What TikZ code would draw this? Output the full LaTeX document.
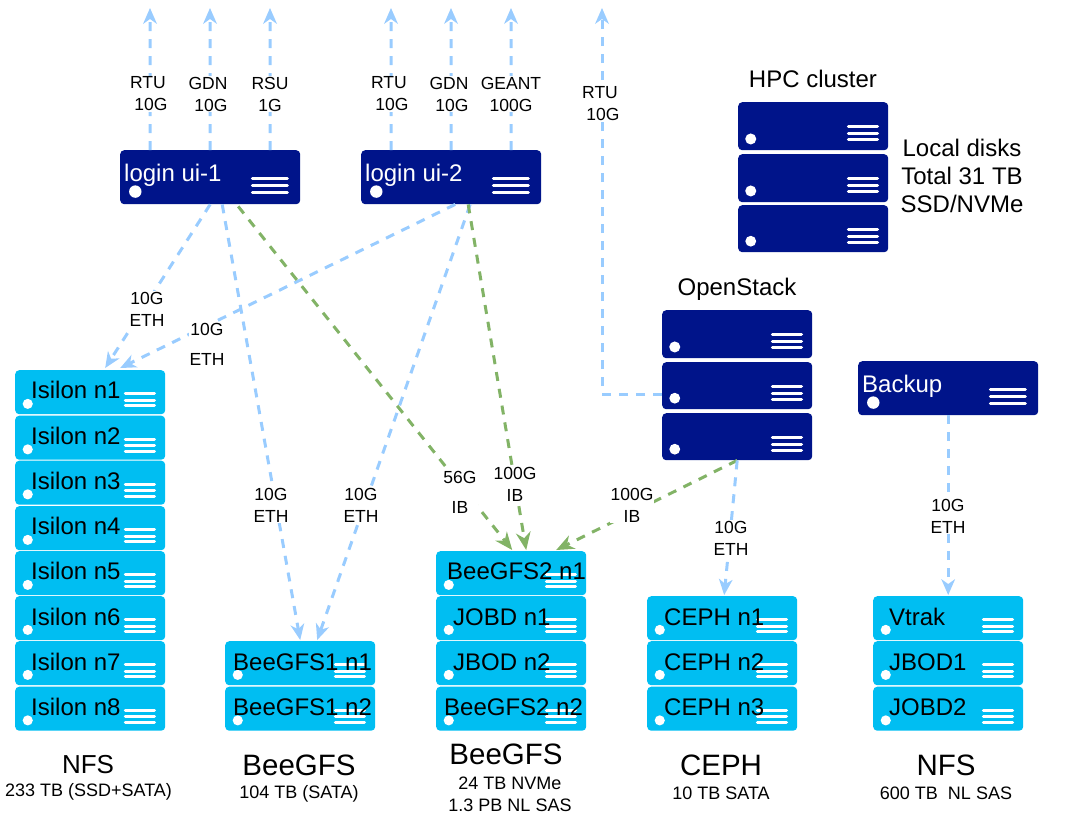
\documentclass[tikz,border=0pt]{standalone}
\usepackage{fontspec}
\setmainfont{Liberation Sans}
\usetikzlibrary{arrows.meta,calc}
\definecolor{navysrv}{HTML}{00148A}
\definecolor{cyansrv}{HTML}{00BEF2}
\definecolor{bluelink}{HTML}{99CCFF}
\definecolor{greenlink}{HTML}{82B366}
\tikzset{
  srvbox/.style={draw=none,rounded corners=4pt,inner sep=0pt,anchor=north west},
  srvlabel/.style={anchor=base west,inner sep=0pt,font=\fontsize{24}{26}\selectfont},
  bluearrow/.style={draw=bluelink,line width=3pt,dash pattern=on 9pt off 8pt,
    -{Stealth[length=16pt,width=14pt,inset=5pt,color=bluelink,line width=0pt]}},
  greenarrow/.style={draw=greenlink,line width=3pt,dash pattern=on 9pt off 8pt,
    -{Stealth[length=18pt,width=15pt,inset=6pt,color=greenlink,line width=0pt]}},
  edgelabel/.style={fill=white,align=center,inner sep=1pt,font=\fontsize{17.5}{22}\selectfont},
  title/.style={align=center,inner sep=0pt,font=\fontsize{29.5}{32}\selectfont},
  smalltitle/.style={align=center,inner sep=0pt,font=\fontsize{26}{30}\selectfont},
  subtitle/.style={align=center,inner sep=0pt,font=\fontsize{18}{22}\selectfont},
  head/.style={align=center,inner sep=0pt,font=\fontsize{24}{28}\selectfont}
}
% name, x, y, w, h, fill, icon line drop
\newcommand{\srv}[7]{%
  \node[srvbox,fill=#6,minimum width=#4pt,minimum height=#5pt] (#1) at (#2,#3) {};
  \fill[white] ({#2+0.085*#4},{#3+0.77*#5}) circle[radius=0.115*#5 pt];
  \foreach \f in {0.52,0.66,0.79}
    \draw[white,line width=3pt,line cap=round] ({#2+#4*0.735},{#3+\f*#5+#7}) -- ({#2+#4*0.93},{#3+\f*#5+#7});
}
\newcommand{\srvt}[5]{\node[srvlabel,text=#2] (#1-label) at (#3,#4) {#5};}
\begin{document}
\begin{tikzpicture}[x=1pt,y=-1pt]
\useasboundingbox (0,0) rectangle (1069,820);

\srv{ui1}{120}{150}{180}{54}{navysrv}{0}
\srv{ui2}{361}{150}{180}{54}{navysrv}{0}
\srv{hpca}{738}{102}{150}{48}{navysrv}{0}
\srv{hpcb}{738}{154}{150}{48}{navysrv}{0}
\srv{hpcc}{738}{205}{150}{47}{navysrv}{0}
\srv{osa}{662}{310}{150}{48}{navysrv}{0}
\srv{osb}{662}{362}{150}{47}{navysrv}{0}
\srv{osc}{662}{413}{150}{47}{navysrv}{0}
\srv{backup}{858}{361}{180}{54}{navysrv}{0}

\srv{is1}{15}{370}{150}{44}{cyansrv}{1}
\srv{is2}{15}{415.5}{150}{44}{cyansrv}{1}
\srv{is3}{15}{460.5}{150}{44}{cyansrv}{1}
\srv{is4}{15}{506}{150}{44}{cyansrv}{1}
\srv{is5}{15}{551}{150}{44}{cyansrv}{1}
\srv{is6}{15}{596}{150}{44}{cyansrv}{1}
\srv{is7}{15}{641}{150}{44}{cyansrv}{1}
\srv{is8}{15}{686.5}{150}{44}{cyansrv}{1}

\srv{bga}{225}{641}{150}{44}{cyansrv}{1}
\srv{bgb}{225}{686.5}{150}{44}{cyansrv}{1}

\srv{bgc}{436}{551}{150}{44}{cyansrv}{1}
\srv{jba}{436}{596}{150}{44}{cyansrv}{1}
\srv{jbb}{436}{641}{150}{44}{cyansrv}{1}
\srv{bgd}{436}{686.5}{150}{44}{cyansrv}{1}

\srv{cea}{647}{596}{150}{44}{cyansrv}{1}
\srv{ceb}{647}{641}{150}{44}{cyansrv}{1}
\srv{cec}{647}{686.5}{150}{44}{cyansrv}{1}

\srv{vt}{873}{596}{150}{44}{cyansrv}{1}
\srv{jc}{873}{641}{150}{44}{cyansrv}{1}
\srv{jd}{873}{686.5}{150}{44}{cyansrv}{1}

% server labels
\srvt{ui1}{white}{124}{181}{login ui-1}
\srvt{ui2}{white}{365}{181}{login ui-2}
\srvt{backup}{white}{862}{392}{Backup}
\srvt{is1}{black}{31}{398}{Isilon n1}
\srvt{is2}{black}{31}{444}{Isilon n2}
\srvt{is3}{black}{31}{489}{Isilon n3}
\srvt{is4}{black}{31}{534}{Isilon n4}
\srvt{is5}{black}{31}{579}{Isilon n5}
\srvt{is6}{black}{31}{625}{Isilon n6}
\srvt{is7}{black}{31}{670}{Isilon n7}
\srvt{is8}{black}{31}{715}{Isilon n8}
\srvt{bga}{black}{233}{670}{BeeGFS1 n1}
\srvt{bgb}{black}{233}{715}{BeeGFS1 n2}
\srvt{bgc}{black}{447}{579}{BeeGFS2 n1}
\srvt{jba}{black}{453}{625}{JOBD n1}
\srvt{jbb}{black}{453}{670}{JBOD n2}
\srvt{bgd}{black}{444}{715}{BeeGFS2 n2}
\srvt{cea}{black}{664}{625}{CEPH n1}
\srvt{ceb}{black}{664}{670}{CEPH n2}
\srvt{cec}{black}{664}{715}{CEPH n3}
\srvt{vt}{black}{889}{625}{Vtrak}
\srvt{jc}{black}{889}{670}{JBOD1}
\srvt{jd}{black}{889}{715}{JOBD2}

% free ends
\coordinate (t1) at (150,8);
\coordinate (t2) at (210,8);
\coordinate (t3) at (270,8);
\coordinate (t4) at (391,8);
\coordinate (t5) at (451,8);
\coordinate (t6) at (511,8);
\coordinate (t7) at (602,8);
\coordinate (bend) at (602,394);

% connectors
\draw[bluearrow] ([xshift=-60pt]ui1.north) -- (t1);
\draw[bluearrow] (ui1.north) -- (t2);
\draw[bluearrow] ([xshift=60pt]ui1.north) -- (t3);
\draw[bluearrow] ([xshift=-60pt]ui2.north) -- (t4);
\draw[bluearrow] (ui2.north) -- (t5);
\draw[bluearrow] ([xshift=60pt]ui2.north) -- (t6);
\draw[bluearrow] (osb.west |- bend) -- (bend) -- (t7);
\draw[bluearrow] (ui1.south) -- ([xshift=15pt,yshift=2pt]is1.north);
\draw[bluearrow] ([xshift=4pt]ui2.south) -- ([xshift=30pt,yshift=2pt]is1.north);
\draw[bluearrow] ([xshift=12pt]ui1.south) -- ([xshift=0pt,yshift=1pt]bga.north);
\draw[bluearrow] ([xshift=19pt]ui2.south) -- ([xshift=17pt,yshift=1pt]bga.north);
\draw[greenarrow] ([xshift=28pt,yshift=-2pt]ui1.south) -- ([xshift=1pt,yshift=1pt]bgc.north);
\draw[greenarrow] ([xshift=17pt]ui2.south) -- ([xshift=15pt,yshift=1pt]bgc.north);
\draw[greenarrow] (osc.south) -- ([xshift=45pt,yshift=1pt]bgc.north);
\draw[bluearrow] (osc.south) -- ([xshift=2pt,yshift=1pt]cea.north);
\draw[bluearrow] (backup.south) -- ([xshift=0pt,yshift=1pt]vt.north);

% connector labels
\node[edgelabel] (l1) at (148,94) {RTU\\\,\,10G};
\node[edgelabel] (l2) at (208,94) {GDN\\\,\,10G};
\node[edgelabel] (l3) at (270,94) {RSU\\1G};
\node[edgelabel] (l4) at (389,94) {RTU\\\,\,10G};
\node[edgelabel] (l5) at (449,94) {GDN\\\,\,10G};
\node[edgelabel] (l6) at (511,94) {GEANT\\100G};
\node[edgelabel] (l7) at (600,104) {RTU\\\,\,10G};
\node[edgelabel] (l8) at (147,309) {10G\\ETH};
\node[edgelabel] (l9) at (207,344) {10G\\[8pt]ETH};
\node[edgelabel] (l10) at (271,505) {10G\\ETH};
\node[edgelabel] (l11) at (361,505) {10G\\ETH};
\node[edgelabel] (l12) at (460,492) {56G\\[8pt]IB};
\node[edgelabel] (l13) at (515,484) {100G\\IB};
\node[edgelabel] (l14) at (632,505) {100G\\IB};
\node[edgelabel] (l15) at (731,538) {10G\\ETH};
\node[edgelabel] (l16) at (948,516) {10G\\ETH};

% headings and captions
\node[head] (hpc) at (813,79) {HPC cluster};
\node[head] (disks) at (962,176) {Local disks\\Total 31 TB\\SSD/NVMe};
\node[head] (os) at (737,289) {OpenStack};
\node[smalltitle] (c1) at (88,765) {NFS};
\node[subtitle] (s1) at (88.5,792) {233 TB (SSD+SATA)};
\node[title] (c2) at (299,765) {BeeGFS};
\node[subtitle] (s2) at (299,794) {104 TB (SATA)};
\node[title] (c3) at (506,754) {BeeGFS};
\node[subtitle] (s3) at (510,794) {24 TB NVMe\\1.3 PB NL SAS};
\node[title] (c4) at (721,765) {CEPH};
\node[subtitle] (s4) at (721,793) {10 TB SATA};
\node[title] (c5) at (946,765) {NFS};
\node[subtitle] (s5) at (946,793) {600 TB\ \ NL SAS};
\end{tikzpicture}
\end{document}
